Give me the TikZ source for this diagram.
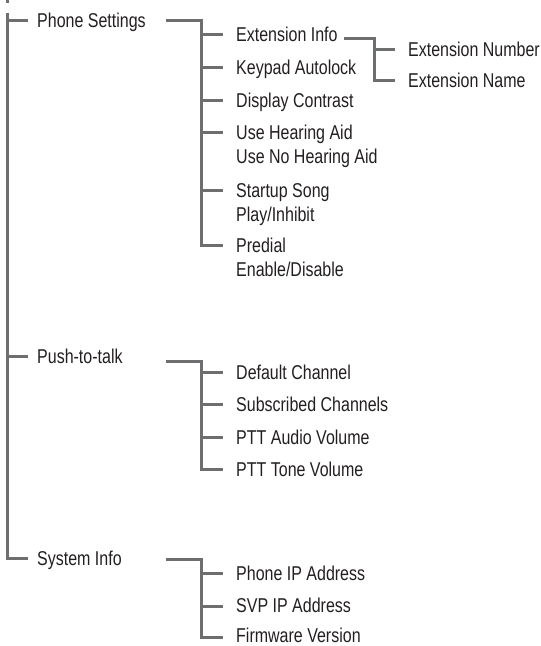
\documentclass[tikz,border=0pt]{standalone}
\usepackage{fontspec}
\setmainfont[FakeStretch=0.8]{Liberation Sans}
\definecolor{wiregray}{HTML}{6D6E70}
\definecolor{labelink}{HTML}{231F20}

\begin{document}
\begin{tikzpicture}[x=1pt, y=-1pt, wire/.style={line width=3pt, color=wiregray}, menunode/.style={anchor=base west, inner sep=0pt, align=left, text=labelink, font=\fontsize{20}{24}\selectfont}]
\useasboundingbox (0,0) rectangle (541,646);
\coordinate (stub) at (7,0);
\coordinate (stubend) at (7,3);
\coordinate (trunk) at (7,13);
\draw[wire] (stub) -- (stubend);
\node[menunode] at (37, 27) (ps) {Phone Settings};
\node[menunode] at (37, 363) (ptt) {Push-to-talk};
\node[menunode] at (37, 565) (si) {System Info};
\draw[wire] (trunk) |- ([xshift=-9pt,yshift=7pt]si.base west);
\draw[wire] (trunk) |- ([xshift=-9pt,yshift=7pt]ps.base west);
\draw[wire] (trunk) |- ([xshift=-9pt,yshift=7pt]ptt.base west);

\node[menunode] at (236, 41) (ps1) {Extension Info};
\node[menunode] at (236, 74) (ps2) {Keypad Autolock};
\node[menunode] at (236, 107) (ps3) {Display Contrast};
\node[menunode] at (236, 163) (ps4) {Use Hearing Aid\\Use No Hearing Aid};
\node[menunode] at (236, 221) (ps5) {Startup Song\\Play/Inhibit};
\node[menunode] at (236, 276) (ps6) {Predial\\Enable/Disable};
\coordinate (psout) at (166,20);
\coordinate (psbus) at (201,20);
\draw[wire] (psout) -- (psbus) |- ([xshift=-13pt,yshift=31pt]ps6.base west);
\draw[wire] (psbus) |- ([xshift=-13pt,yshift=7pt]ps1.base west);
\draw[wire] (psbus) |- ([xshift=-13pt,yshift=7pt]ps2.base west);
\draw[wire] (psbus) |- ([xshift=-13pt,yshift=7pt]ps3.base west);
\draw[wire] (psbus) |- ([xshift=-13pt,yshift=31pt]ps4.base west);
\draw[wire] (psbus) |- ([xshift=-13pt,yshift=31pt]ps5.base west);

\node[menunode] at (408, 56) (ext1) {Extension Number};
\node[menunode] at (408, 87) (ext2) {Extension Name};
\coordinate (extbus) at (374,38);
\draw[wire] ([xshift=6pt,yshift=3pt]ps1.base east) -- (extbus) |- ([xshift=-13pt,yshift=7pt]ext2.base west);
\draw[wire] (extbus) |- ([xshift=-13pt,yshift=7pt]ext1.base west);

\node[menunode] at (236, 379) (ptt1) {Default Channel};
\node[menunode] at (236, 411) (ptt2) {Subscribed Channels};
\node[menunode] at (236, 444) (ptt3) {PTT Audio Volume};
\node[menunode] at (236, 476) (ptt4) {PTT Tone Volume};
\coordinate (pttout) at (166,361);
\coordinate (pttbus) at (201,361);
\draw[wire] (pttout) -- (pttbus) |- ([xshift=-13pt,yshift=7pt]ptt4.base west);
\draw[wire] (pttbus) |- ([xshift=-13pt,yshift=7pt]ptt1.base west);
\draw[wire] (pttbus) |- ([xshift=-13pt,yshift=7pt]ptt2.base west);
\draw[wire] (pttbus) |- ([xshift=-13pt,yshift=7pt]ptt3.base west);

\node[menunode] at (236, 580) (si1) {Phone IP Address};
\node[menunode] at (236, 612) (si2) {SVP IP Address};
\node[menunode] at (236, 642) (si3) {Firmware Version};
\coordinate (siout) at (166,559);
\coordinate (sibus) at (201,559);
\draw[wire] (siout) -- (sibus) |- ([xshift=-13pt,yshift=5pt]si3.base west);
\draw[wire] (sibus) |- ([xshift=-13pt,yshift=7pt]si1.base west);
\draw[wire] (sibus) |- ([xshift=-13pt,yshift=6pt]si2.base west);
\end{tikzpicture}
\end{document}
